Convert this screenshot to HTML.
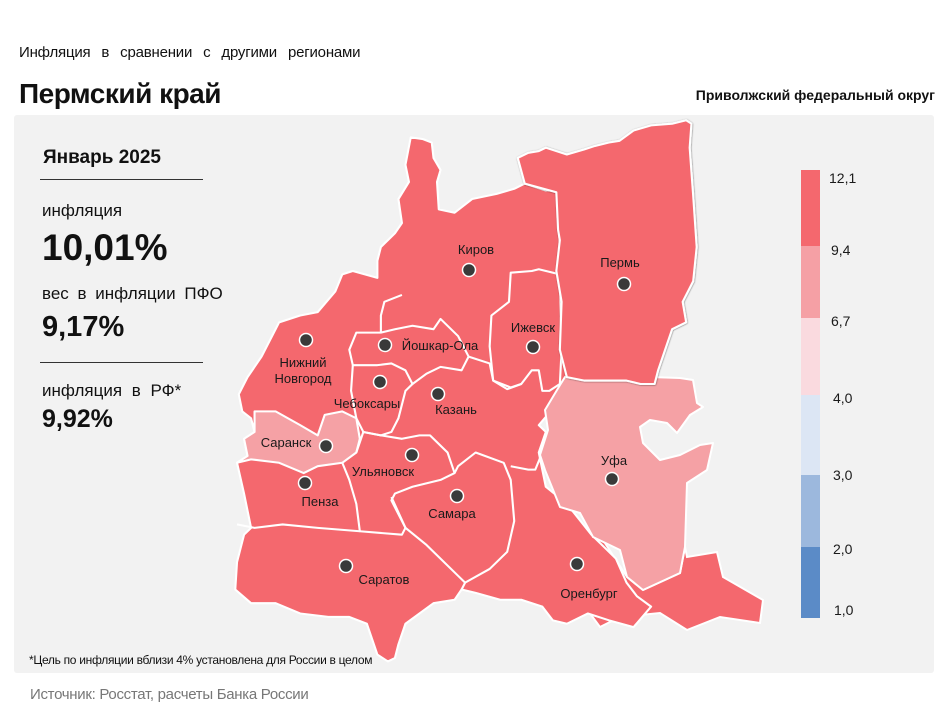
<!DOCTYPE html>
<html><head><meta charset="utf-8"><style>
body{margin:0;width:950px;height:713px;background:#fff;font-family:"Liberation Sans",sans-serif;position:relative;overflow:hidden}
.t{position:absolute;white-space:nowrap;color:#111}
</style></head><body>
<div class="t" style="left:19px;top:44px;font-size:15px;word-spacing:7px;letter-spacing:-0.2px">Инфляция в сравнении с другими регионами</div>
<div class="t" style="left:19px;top:78px;font-size:28px;font-weight:bold;letter-spacing:-0.5px">Пермский край</div>
<div class="t" style="right:15px;top:87px;font-size:14px;font-weight:bold">Приволжский федеральный округ</div>
<div style="position:absolute;left:14px;top:115px;width:920px;height:558px;background:#f2f2f2;border-radius:3px"></div>
<div class="t" style="left:43px;top:147px;font-size:19px;font-weight:bold">Январь 2025</div>
<div style="position:absolute;left:40px;top:179px;width:163px;height:1px;background:#333"></div>
<div class="t" style="left:42px;top:201px;font-size:17px">инфляция</div>
<div class="t" style="left:42px;top:227px;font-size:37px;font-weight:bold">10,01%</div>
<div class="t" style="left:42px;top:284px;font-size:17px;word-spacing:4px">вес в инфляции ПФО</div>
<div class="t" style="left:42px;top:311px;font-size:29px;font-weight:bold">9,17%</div>
<div style="position:absolute;left:40px;top:362px;width:163px;height:1px;background:#333"></div>
<div class="t" style="left:42px;top:381px;font-size:17px;word-spacing:5px">инфляция в РФ*</div>
<div class="t" style="left:42px;top:405px;font-size:25px;font-weight:bold">9,92%</div>
<div class="t" style="left:29px;top:653px;font-size:12px;letter-spacing:-0.3px">*Цель по инфляции вблизи 4% установлена для России в целом</div>
<div class="t" style="left:30px;top:686px;font-size:15px;color:#777;letter-spacing:-0.3px">Источник: Росстат, расчеты Банка России</div>

<svg style="position:absolute;left:0;top:0" width="950" height="713">
<defs><filter id="sh" x="-10%" y="-10%" width="120%" height="120%"><feDropShadow dx="1" dy="1" stdDeviation="2" flood-color="#000" flood-opacity="0.5"/></filter></defs>
<!-- Orenburg east -->
<polygon fill="#f4686e" stroke="#fff" stroke-width="2" points="590,520 627,577 643,590 680,573 685,547 687,557 717,552 723,577 763,600 760,623 720,617 687,630 660,613 620,617 600,627 580,600"/>
<g transform="translate(230,110) scale(0.3509,0.3425)" stroke="#fff" stroke-width="6" stroke-linejoin="round">
<polygon fill="#f4686e" points="515,80 550,85 575,95 580,140 600,175 590,210 595,290 640,300 690,260 760,245 810,230 840,215 900,235 930,235 945,470 945,700 960,780 1000,800 930,860 880,920 900,940 880,1000 900,1100 960,1150 1030,1240 1100,1310 1130,1380 1160,1420 1200,1450 1150,1510 1080,1490 1020,1470 960,1500 920,1490 890,1450 830,1430 770,1430 700,1410 660,1400 640,1430 580,1440 500,1500 480,1560 470,1600 450,1610 420,1590 390,1500 340,1480 280,1480 200,1470 130,1440 60,1440 15,1400 20,1320 40,1240 60,1220 40,1120 20,1030 50,1010 40,960 70,940 60,900 35,880 25,830 50,780 90,720 130,640 140,620 200,600 250,590 300,530 320,480 350,470 420,490 420,440 430,400 470,360 490,330 480,260 510,210 500,160"/>
<polygon fill="#f5a1a5" points="40,960 70,940 70,880 130,880 200,920 250,950 270,890 320,880 360,900 370,960 360,1000 320,1030 250,1040 210,1060 140,1030 60,1020 20,1030 50,1010"/>
<g fill="none">
<polyline points="490,540 440,560 430,600 430,650"/>
<polygon points="430,650 470,640 520,630 580,640 600,610 650,660 680,720 660,760 600,750 560,770 520,800 500,760 460,740 420,745 350,745 340,700 360,650"/>
<polyline points="350,745 345,820 360,900 380,940 430,950 460,940 480,900 500,820 520,800"/>
<polyline points="680,720 740,740 750,790 800,810 830,800"/>
<polygon points="940,480 880,465 860,470 800,475 795,560 745,600 740,690 750,790 790,815 830,800 860,760 880,760 890,820 910,820 940,800 945,700"/>
<polyline points="360,1000 380,940 430,950 490,960 540,950 570,950 620,1000 640,1060 600,1080 520,1100 470,1120 460,1140 500,1220 490,1240 370,1230 360,1150 340,1080 320,1030"/>
<polyline points="20,1210 70,1220 150,1210 250,1220 370,1230"/>
<polyline points="460,1130 500,1220 560,1270 650,1360 670,1380 740,1340 790,1290 810,1200 800,1080 780,1030 700,1000 650,1040 640,1060"/>
<polyline points="800,1040 850,1050 870,1050 890,1000"/>
<polyline points="660,1400 670,1380"/>
</g>
</g>
<!-- Bashkortostan -->
<polygon fill="#f5a1a5" stroke="#fff" stroke-width="2" stroke-linejoin="round" points="565,377 610,378 650,377 680,378 693,380 697,403 703,407 690,415 677,433 667,423 650,420 640,427 643,443 660,460 680,455 700,445 713,443 707,470 687,483 685,547 680,573 643,590 627,577 620,550 593,537 580,513 560,507 545,470 540,455 548,430 545,410 560,385"/>
<!-- Perm highlighted -->
<g transform="translate(230,110) scale(0.3509,0.3425)">
<polygon fill="#f4686e" stroke="#fff" stroke-width="6" stroke-linejoin="round" filter="url(#sh)" points="820,140 850,125 880,120 900,110 960,130 1010,115 1040,105 1080,95 1110,90 1150,60 1200,45 1260,40 1300,30 1315,40 1310,110 1320,250 1330,400 1320,500 1290,560 1300,620 1260,640 1240,700 1220,760 1210,800 1170,800 1130,790 1010,790 960,780 940,700 945,560 930,470 940,380 935,350 930,240 840,215"/>
</g>
<g fill="#3a3a3a" stroke="#fff" stroke-width="1.5">
<circle cx="469" cy="270" r="6.5"/><circle cx="624" cy="284" r="6.5"/><circle cx="533" cy="347" r="6.5"/>
<circle cx="385" cy="345" r="6.5"/><circle cx="306" cy="340" r="6.5"/><circle cx="380" cy="382" r="6.5"/>
<circle cx="438" cy="394" r="6.5"/><circle cx="326" cy="446" r="6.5"/><circle cx="412" cy="455" r="6.5"/>
<circle cx="305" cy="483" r="6.5"/><circle cx="457" cy="496" r="6.5"/><circle cx="612" cy="479" r="6.5"/>
<circle cx="346" cy="566" r="6.5"/><circle cx="577" cy="564" r="6.5"/>
</g>
<g font-family="Liberation Sans, sans-serif" font-size="13" fill="#1a1a1a" text-anchor="middle">
<text x="476" y="254">Киров</text><text x="620" y="267">Пермь</text><text x="533" y="332">Ижевск</text>
<text x="440" y="350">Йошкар-Ола</text><text x="303" y="367">Нижний</text><text x="303" y="383">Новгород</text>
<text x="367" y="408">Чебоксары</text><text x="456" y="414">Казань</text><text x="286" y="447">Саранск</text>
<text x="383" y="476">Ульяновск</text><text x="320" y="506">Пенза</text><text x="452" y="518">Самара</text>
<text x="614" y="465">Уфа</text><text x="384" y="584">Саратов</text><text x="589" y="598">Оренбург</text>
</g>
<rect x="801" y="170" width="19" height="76" fill="#f4686e"/>
<rect x="801" y="246" width="19" height="72" fill="#f5a0a5"/>
<rect x="801" y="318" width="19" height="77" fill="#fadadf"/>
<rect x="801" y="395" width="19" height="80" fill="#dce6f4"/>
<rect x="801" y="475" width="19" height="72" fill="#9cb8dd"/>
<rect x="801" y="547" width="19" height="71" fill="#5b8bc7"/>
<g font-family="Liberation Sans, sans-serif" font-size="14" fill="#1a1a1a">
<text x="829" y="183">12,1</text><text x="831" y="255">9,4</text><text x="831" y="326">6,7</text>
<text x="833" y="403">4,0</text><text x="833" y="480">3,0</text><text x="833" y="554">2,0</text><text x="834" y="615">1,0</text>
</g>
</svg>
</body></html>
